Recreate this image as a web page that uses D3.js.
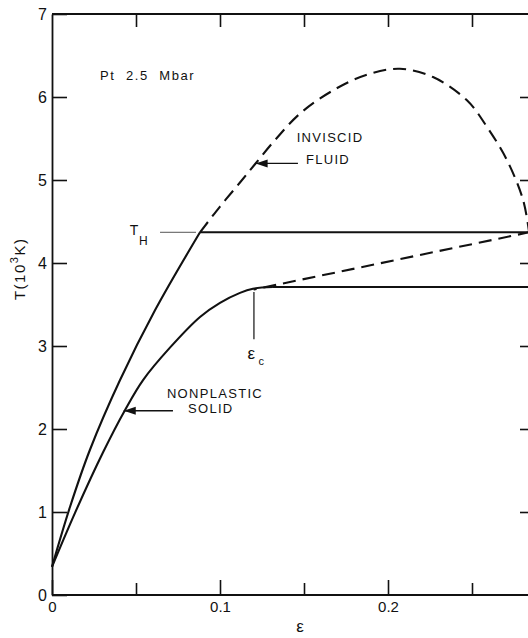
<!DOCTYPE html>
<html>
<head>
<meta charset="utf-8">
<script src="https://cdn.jsdelivr.net/npm/d3@7"></script>
<style>
  body { margin: 0; background: #fff; }
  svg { display: block; font-family: "Liberation Sans", Arial, sans-serif; }
</style>
</head>
<body>
<svg id="chart"></svg>
<script>
// strain eps vs temperature T (10^3 K), Pt at 2.5 Mbar
const fluidSolidEps = [0, 0.0107, 0.0226, 0.0405, 0.0613, 0.0881];
const fluidSolidT   = [0.34, 1.06, 1.75, 2.59, 3.43, 4.37];

const fluidDashEps = [0.0881, 0.1, 0.1119, 0.1208, 0.1327, 0.1476, 0.1673, 0.1875, 0.2071, 0.2268, 0.247, 0.2589, 0.2708, 0.2804, 0.284];
const fluidDashT   = [4.37, 4.68, 4.97, 5.19, 5.48, 5.80, 6.08, 6.27, 6.34, 6.24, 5.96, 5.64, 5.24, 4.76, 4.37];

const solidEps = [0, 0.0137, 0.0304, 0.0435, 0.0542, 0.0702, 0.0881, 0.1, 0.1119, 0.1196, 0.1315];
const solidT   = [0.34, 0.99, 1.72, 2.23, 2.59, 2.98, 3.35, 3.52, 3.64, 3.69, 3.71];

const plasticT = 3.71;       // flat line after eps_c
const hugoniotT = 4.37;      // T_H
const epsC = 0.1202;
const solidDashEps = [0.12, 0.284];
const solidDashT   = [3.68, 4.37];

const xTicks = [0, 0.05, 0.1, 0.15, 0.2, 0.25];
const xLabels = { 0: "0", 0.1: "0.1", 0.2: "0.2" };
const yTicks = [0, 1, 2, 3, 4, 5, 6, 7];

const W = 528, H = 638;
const xMax = 0.2875;

const svg = d3.select("#chart").attr("width", W).attr("height", H);

const x = d3.scaleLinear().domain([0, 0.1]).range([52, 220]);
const y = d3.scaleLinear().domain([0, 7]).range([595, 14]);

const ink = "#111";

// axes
const axisStyle = g => {
  g.select(".domain").attr("stroke", ink).attr("stroke-width", 1.8);
  g.selectAll(".tick line").attr("stroke", ink).attr("stroke-width", 1.6);
  g.selectAll("text").attr("fill", ink);
};

svg.append("g")
  .attr("transform", `translate(${x(0)},0)`)
  .call(d3.axisLeft(y).tickValues(yTicks).tickSize(-15).tickSizeOuter(0).tickPadding(5).tickFormat(d3.format("d")))
  .call(axisStyle)
  .selectAll("text").attr("font-size", 16).attr("font-family", "Liberation Sans, Arial, sans-serif");

svg.append("g")
  .attr("transform", `translate(${x(xMax)},0)`)
  .call(d3.axisRight(y).tickValues(yTicks.slice(1, 7)).tickSize(-15).tickSizeOuter(0).tickFormat(""))
  .call(axisStyle);

svg.append("g")
  .attr("transform", `translate(0,${y(0)})`)
  .call(d3.axisBottom(x).tickValues(xTicks).tickSize(-13).tickSizeOuter(0).tickPadding(6)
    .tickFormat(d => xLabels[d] || ""))
  .call(axisStyle)
  .call(g => g.select(".domain").attr("d", `M${x(0)},0H${x(xMax)}`))
  .call(g => g.selectAll(".tick line").attr("y2", d => (xLabels[d] ? -15 : -12)))
  .selectAll("text").attr("font-size", 15).attr("font-family", "Liberation Sans, Arial, sans-serif");

svg.append("g")
  .attr("transform", `translate(0,${y(7)})`)
  .call(d3.axisTop(x).tickValues(xTicks.slice(1)).tickSize(-13).tickSizeOuter(0).tickFormat(""))
  .call(axisStyle)
  .call(g => g.select(".domain").attr("d", `M${x(0)},0H${x(xMax)}`));

// axis titles
svg.append("text")
  .attr("transform", `translate(21,${y(3.93)}) rotate(-90)`)
  .attr("text-anchor", "middle")
  .attr("dominant-baseline", "middle")
  .attr("font-size", 15)
  .attr("letter-spacing", 1.5)
  .attr("fill", ink)
  .html('T(10<tspan dy="-6" font-size="11">3</tspan><tspan dy="6">K)</tspan>');

svg.append("text")
  .attr("x", x(0.1476)).attr("y", 632)
  .attr("text-anchor", "middle")
  .attr("font-size", 17)
  .attr("fill", ink)
  .text("\u03b5");

// curves
const line = d3.line().x(d => x(d[0])).y(d => y(d[1])).curve(d3.curveCatmullRom.alpha(0.5));
const straight = d3.line().x(d => x(d[0])).y(d => y(d[1]));
const pts = (xs, ys) => xs.map((v, i) => [v, ys[i]]);

const curves = svg.append("g").attr("fill", "none").attr("stroke", ink).attr("stroke-width", 2.1);

curves.append("path").attr("d", line(pts(fluidSolidEps, fluidSolidT)));
curves.append("path").attr("d", line(pts(fluidDashEps, fluidDashT))).attr("stroke-dasharray", "13,7");
curves.append("path").attr("d", line(pts(solidEps, solidT)));
curves.append("path").attr("d", straight([[solidEps[solidEps.length - 1], plasticT], [xMax, plasticT]]));
curves.append("path").attr("d", straight([[fluidSolidEps[fluidSolidEps.length - 1], hugoniotT], [xMax, hugoniotT]]));
curves.append("path").attr("d", straight(pts(solidDashEps, solidDashT)))
  .attr("stroke-dasharray", "13,7").attr("stroke-dashoffset", -10);

// annotations
svg.append("defs").append("marker")
  .attr("id", "head")
  .attr("markerUnits", "userSpaceOnUse")
  .attr("markerWidth", 14).attr("markerHeight", 10)
  .attr("viewBox", "0 -5 14 10")
  .attr("refX", 12).attr("refY", 0)
  .attr("orient", "auto")
  .append("path").attr("d", "M0,-4L12,0L0,4Z").attr("fill", ink);

const ann = svg.append("g").attr("fill", ink).attr("font-size", 13).attr("letter-spacing", 1.3);

ann.append("text").attr("x", x(0.0286)).attr("y", y(6.2)).attr("letter-spacing", 1.6)
  .text("Pt\u00a0\u00a02.5\u00a0\u00a0Mbar");

ann.append("text").attr("x", x(0.1655)).attr("y", y(5.46)).attr("text-anchor", "middle").text("INVISCID");
ann.append("text").attr("x", x(0.1643)).attr("y", y(5.19)).attr("text-anchor", "middle").text("FLUID");
svg.append("line")
  .attr("x1", x(0.1464)).attr("x2", x(0.1212)).attr("y1", y(5.2)).attr("y2", y(5.2))
  .attr("stroke", ink).attr("stroke-width", 1.3).attr("marker-end", "url(#head)");

ann.append("text").attr("x", x(0.0970)).attr("y", y(2.37)).attr("text-anchor", "middle").text("NONPLASTIC");
ann.append("text").attr("x", x(0.0945)).attr("y", y(2.19)).attr("text-anchor", "middle").text("SOLID");
svg.append("line")
  .attr("x1", x(0.072)).attr("x2", x(0.0427)).attr("y1", y(2.22)).attr("y2", y(2.22))
  .attr("stroke", ink).attr("stroke-width", 1.3).attr("marker-end", "url(#head)");

// T_H leader
svg.append("line")
  .attr("x1", x(0.0643)).attr("x2", x(0.0857)).attr("y1", y(hugoniotT)).attr("y2", y(hugoniotT))
  .attr("stroke", "#555").attr("stroke-width", 1);
ann.append("text").attr("x", x(0.0492)).attr("y", y(4.34)).attr("font-size", 14).attr("text-anchor", "middle").text("T");
ann.append("text").attr("x", x(0.0548)).attr("y", y(4.22)).attr("font-size", 12).attr("text-anchor", "middle").text("H");

// eps_c marker
svg.append("line")
  .attr("x1", x(epsC)).attr("x2", x(epsC)).attr("y1", y(3.65)).attr("y2", y(3.08))
  .attr("stroke", ink).attr("stroke-width", 1.2);
ann.append("text").attr("x", x(0.1190)).attr("y", y(2.84)).attr("font-size", 17).attr("text-anchor", "middle").text("\u03b5");
ann.append("text").attr("x", x(0.1250)).attr("y", y(2.77)).attr("font-size", 11).attr("text-anchor", "middle").text("c");
</script>
</body>
</html>
